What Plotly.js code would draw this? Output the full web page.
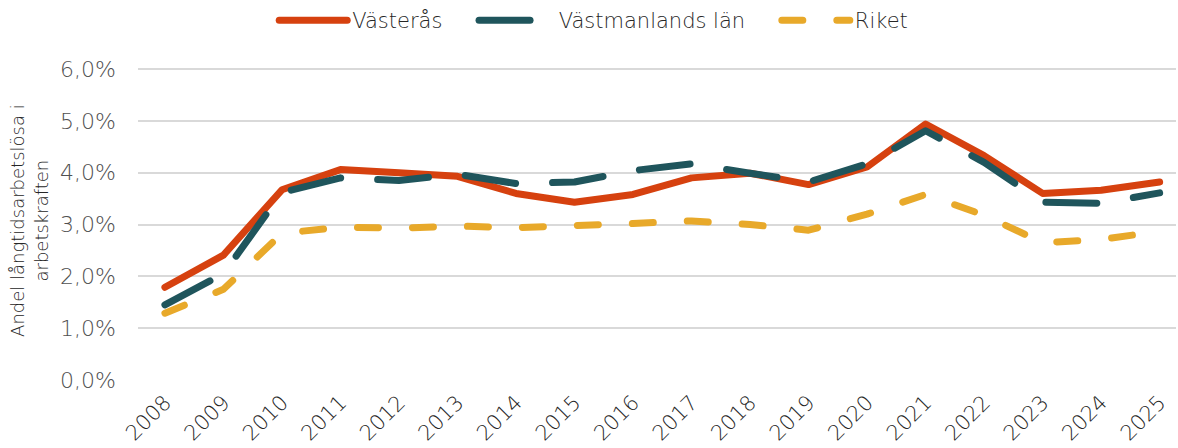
<!DOCTYPE html>
<html>
<head>
<meta charset="utf-8">
<script src="https://cdn.plot.ly/plotly-3.0.1.min.js"></script>
<style>
html,body{margin:0;padding:0;background:#fff;}
#chart{width:1178px;height:448px;}
path.js-line{stroke-linecap:round !important;stroke-linejoin:round !important;}
</style>
</head>
<body>
<div id="chart"></div>
<script>
const years = ["2008","2009","2010","2011","2012","2013","2014","2015","2016","2017","2018","2019","2020","2021","2022","2023","2024","2025"];
const vasteras = [1.79,2.41,3.67,4.06,4.00,3.93,3.60,3.43,3.58,3.90,3.99,3.77,4.11,4.94,4.33,3.60,3.66,3.82];
const vastmanland = [1.45,2.05,3.62,3.90,3.85,3.97,3.79,3.82,4.04,4.17,3.99,3.82,4.17,4.81,4.20,3.43,3.41,3.61];
const riket = [1.29,1.75,2.83,2.95,2.93,2.97,2.94,2.97,3.02,3.07,3.00,2.89,3.20,3.58,3.18,2.65,2.71,2.87];
const seriesNames = ["Västerås","Västmanlands län","Riket"];
const yTicks = [0,1,2,3,4,5,6];
const yTickText = ["0,0%","1,0%","2,0%","3,0%","4,0%","5,0%","6,0%"];
const yTitle = "Andel långtidsarbetslösa i<br>arbetskraften";

const NB = "\u00a0";
const FONT = "'DejaVu Sans', sans-serif";
const traces = [
  {x: years, y: vasteras, name: seriesNames[0] + NB.repeat(4), type: "scatter", mode: "lines",
   line: {color: "#D6410F", width: 7}},
  {x: years, y: vastmanland, name: NB + seriesNames[1] + NB.repeat(4), type: "scatter", mode: "lines",
   line: {color: "#1F555C", width: 7, dash: "51px,37px"}},
  {x: years, y: riket, name: seriesNames[2], type: "scatter", mode: "lines",
   line: {color: "#E8A92A", width: 7, dash: "21px,34px"}}
];
const layout = {
  width: 1178, height: 448,
  margin: {l: 138, r: 2, t: 68, b: 68},
  paper_bgcolor: "#fff", plot_bgcolor: "#fff",
  font: {family: FONT, color: "#404040", size: 20, weight: 200},
  showlegend: true,
  legend: {orientation: "h", xref: "container", yref: "container", x: 0.504, xanchor: "center",
           y: 1, yanchor: "top", font: {size: 21, color: "#262626", family: FONT, weight: 200},
           itemwidth: 68, traceorder: "normal"},
  xaxis: {type: "category", range: [-0.46, 17.28], tickangle: -45, showgrid: false,
          zeroline: false, showline: false, ticks: "", ticklabelstandoff: 5,
          tickfont: {size: 21, color: "#262626", family: FONT, weight: 200}},
  yaxis: {range: [0, 6.02], tickmode: "array", tickvals: yTicks, ticktext: yTickText,
          showgrid: true, gridcolor: "#d9d9d9", gridwidth: 2, zeroline: false, showline: false,
          ticks: "", ticklabelstandoff: 21, tickfont: {size: 22, color: "#505050", family: FONT, weight: 200}},
  annotations: [{text: yTitle, xref: "paper", yref: "y", x: -0.1045, y: 3.08,
                 xanchor: "center", yanchor: "middle", textangle: -90, showarrow: false,
                 font: {size: 18, color: "#262626", family: FONT, weight: 200}}]
};
Plotly.newPlot("chart", traces, layout, {displayModeBar: false, staticPlot: true});
</script>
</body>
</html>
